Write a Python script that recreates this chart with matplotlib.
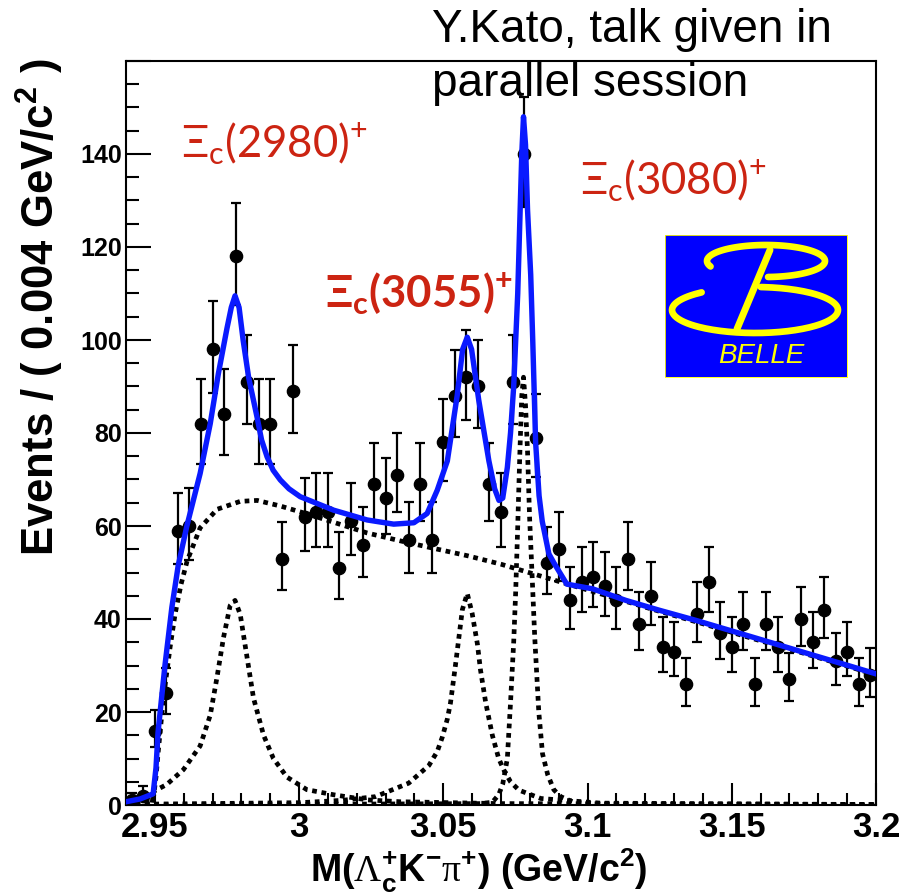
import numpy as np
import matplotlib
matplotlib.use('Agg')
import matplotlib.pyplot as plt
from matplotlib.ticker import MultipleLocator, FuncFormatter

plt.rcParams['font.family'] = ['Liberation Sans', 'DejaVu Sans']
plt.rcParams['mathtext.fontset'] = 'custom'
plt.rcParams['mathtext.rm'] = 'Liberation Sans'
plt.rcParams['mathtext.bf'] = 'Liberation Sans:bold'
plt.rcParams['mathtext.sf'] = 'Liberation Serif'

# --- binned data: Lambda_c+ K- pi+ invariant mass, 4 MeV bins from 2.94 to 3.20
bin_lo = 2.94
bin_w = 0.004
counts = np.array([1, 2, 16, 24, 59, 60, 82, 98, 84, 118,
                   91, 82, 82, 53, 89, 62, 63, 63, 51, 61,
                   56, 69, 66, 71, 57, 69, 57, 78, 88, 92,
                   90, 69, 63, 91, 140, 79, 52, 55, 44, 48,
                   49, 47, 44, 53, 39, 45, 34, 33, 26, 41,
                   48, 37, 34, 39, 26, 39, 34, 27, 40, 35,
                   42, 31, 33, 26, 28])
mass = bin_lo + bin_w * (np.arange(len(counts)) + 0.5)

# poisson-like asymmetric errors
err_lo = np.sqrt(counts + 0.25) - 0.5
err_hi = np.sqrt(counts + 0.25) + 0.5

# --- fit curves
bg_x = [2.9400, 2.9494, 2.9504, 2.9511, 2.9525, 2.9535, 2.9553, 2.9570, 2.9591, 2.9612,
        2.9657, 2.9716, 2.9796, 2.9855, 2.9935, 3.0028, 3.0120, 3.0236, 3.0351, 3.0466,
        3.0584, 3.0699, 3.0872, 3.1046, 3.1219, 3.1393, 3.1567, 3.1740, 3.1914, 3.2000]
bg_y = [0.5, 1.0, 6.0, 11.0, 20.0, 25.5, 34.0, 41.0, 47.5, 52.5,
        59.6, 63.6, 65.3, 65.5, 64.3, 62.6, 60.8, 58.5, 56.8, 55.2,
        53.6, 51.8, 48.6, 45.4, 42.2, 39.1, 35.9, 32.8, 29.6, 28.0]

s1_x = [2.9400, 2.9490, 2.9495, 2.9541, 2.9599, 2.9657, 2.9692, 2.9715, 2.9738, 2.9761,
        2.9778, 2.9796, 2.9819, 2.9842, 2.9877, 2.9911, 2.9958, 3.0027, 3.0120, 3.0236,
        3.0351, 3.0699, 3.2000]
s1_y = [0.0, 0.0, 2.9, 4.4, 7.6, 12.7, 19.3, 27.3, 36.0, 42.9,
        44.0, 41.0, 32.0, 23.0, 15.0, 10.0, 6.0, 3.3, 2.2, 1.1,
        0.7, 0.3, 0.1]

s2_x = [2.9400, 2.9495, 3.0004, 3.0149, 3.0265, 3.0380, 3.0450, 3.0479, 3.0496, 3.0514,
        3.0525, 3.0542, 3.0554, 3.0566, 3.0583, 3.0600, 3.0618, 3.0629, 3.0647, 3.0670,
        3.0692, 3.0710, 3.0733, 3.0762, 3.0838, 3.1046, 3.2000]
s2_y = [0.0, 0.2, 0.5, 1.0, 1.8, 4.7, 8.5, 11.5, 14.5, 18.5,
        22.0, 30.0, 36.0, 42.0, 45.5, 41.2, 34.7, 29.0, 22.0, 15.0,
        10.0, 7.5, 5.0, 3.2, 1.4, 0.4, 0.1]

s3_x = [2.9400, 3.0629, 3.0670, 3.0692, 3.0706, 3.0722, 3.0733, 3.0744, 3.0751, 3.0758,
        3.0765, 3.0772, 3.0778, 3.0785, 3.0792, 3.0799, 3.0806, 3.0817, 3.0831, 3.0844,
        3.0862, 3.0883, 3.0907, 3.0952, 3.1046, 3.2000]
s3_y = [0.0, 0.3, 0.6, 2.2, 4.5, 10.0, 22.0, 35.0, 46.0, 60.0,
        75.0, 88.0, 92.0, 86.0, 76.0, 62.0, 52.0, 36.0, 20.0, 11.0,
        6.5, 3.3, 1.8, 0.6, 0.2, 0.0]

fit_x = [2.9400, 2.9449, 2.9494, 2.9504, 2.9511, 2.9525, 2.9535, 2.9559, 2.9581, 2.9611,
         2.9657, 2.9692, 2.9720, 2.9750, 2.9765, 2.9778, 2.9792, 2.9806, 2.9825, 2.9854,
         2.9870, 2.9889, 2.9910, 2.9935, 2.9965, 3.0004, 3.0120, 3.0236, 3.0328, 3.0398,
         3.0444, 3.0479, 3.0514, 3.0548, 3.0567, 3.0583, 3.0598, 3.0623, 3.0658, 3.0678,
         3.0693, 3.0706, 3.0722, 3.0733, 3.0744, 3.0751, 3.0758, 3.0765, 3.0772, 3.0778,
         3.0785, 3.0792, 3.0803, 3.0810, 3.0820, 3.0832, 3.0843, 3.0866, 3.0884, 3.0928,
         3.1017, 3.1133, 3.1248, 3.1376, 3.1567, 3.1740, 3.1914, 3.2000]
fit_y = [0.7, 1.3, 2.4, 8.0, 15.6, 24.0, 30.0, 42.5, 51.5, 60.0,
         71.3, 82.0, 92.7, 102.5, 107.0, 109.5, 107.0, 100.0, 92.0, 83.5,
         78.5, 74.9, 72.0, 69.9, 68.0, 66.3, 63.4, 61.3, 60.4, 60.7,
         62.7, 67.7, 74.0, 88.0, 98.0, 100.6, 98.0, 87.0, 74.0, 68.0,
         65.5, 66.0, 72.6, 80.0, 90.0, 100.0, 110.0, 125.0, 140.0, 148.0,
         142.0, 128.0, 114.0, 100.0, 78.0, 66.5, 61.0, 54.0, 52.0, 47.5,
         46.5, 44.0, 41.9, 39.7, 36.2, 33.0, 29.8, 28.2]

red = '#cc2412'
dots = (0, (1.0, 1.0))

fig = plt.figure(figsize=(8.99, 8.96), dpi=100)
ax = fig.add_axes([126/899, 1-805/896, 750/899, 744/896])

ax.errorbar(mass, counts, yerr=[err_lo, err_hi], fmt='o', color='black',
            ms=8.8, elinewidth=1.6, capsize=3.5, capthick=1.6, zorder=3)

for cx, cy in [(bg_x, bg_y), (s1_x, s1_y), (s2_x, s2_y), (s3_x, s3_y)]:
    ax.plot(cx, cy, color='black', lw=3.4, ls=dots, zorder=4)
ax.plot(fit_x, fit_y, color='#0a1aff', lw=3.9, zorder=5, solid_joinstyle='round')

ax.set_xlim(2.94, 3.2)
ax.set_ylim(0, 160)
ax.xaxis.set_major_locator(MultipleLocator(0.05))
ax.xaxis.set_minor_locator(MultipleLocator(0.01))
ax.yaxis.set_major_locator(MultipleLocator(20))
ax.yaxis.set_minor_locator(MultipleLocator(5))
ax.xaxis.set_major_formatter(FuncFormatter(lambda v, p: '%g' % round(v, 3)))
ax.yaxis.set_major_formatter(FuncFormatter(lambda v, p: '' if v > 150 else '%d' % v))
ax.tick_params(which='both', direction='in', top=False, right=False, width=1.5)
ax.tick_params(axis='x', which='major', length=16, pad=4, labelsize=25)
ax.tick_params(axis='x', which='minor', length=8.5)
ax.tick_params(axis='y', which='major', length=18, pad=3, labelsize=18)
ax.tick_params(axis='y', which='minor', length=9.5)
for lab in ax.get_xticklabels() + ax.get_yticklabels():
    lab.set_fontweight('bold')
for sp in ax.spines.values():
    sp.set_linewidth(1.5)

fig.text(310/899, 1-882/896, r'M($\mathsf{Λ}_\mathregular{c}^\mathregular{+}$K$^\mathregular{-}$$\mathsf{π}^\mathregular{+}$) (GeV/c$^\mathregular{2}$)',
         fontsize=27, fontweight='bold', ha='left', va='baseline')
fig.text(40/899, 1-58/896, r'Events / ( 0.004 GeV/c$^\mathregular{2}$ )',
         fontsize=31.5, fontweight='bold', rotation=90, ha='center', va='top')

# resonance labels
lab_font = ['Lato', 'Noto Sans']
fig.text(181/899, 1-158/896, r'Ξ$_\mathregular{c}$(2980)$^\mathregular{+}$', fontsize=31.5,
         color=red, family=lab_font, ha='left', va='baseline')
fig.text(325/899, 1-308/896, r'Ξ$_\mathregular{c}$(3055)$^\mathregular{+}$', fontsize=31.5,
         color=red, family=lab_font, fontweight='bold', ha='left', va='baseline')
fig.text(580/899, 1-195/896, r'Ξ$_\mathregular{c}$(3080)$^\mathregular{+}$', fontsize=31.5,
         color=red, family=lab_font, ha='left', va='baseline')

fig.text(432/899, 1-8/896, 'Y.Kato, talk given in\nparallel session', fontsize=33,
         ha='left', va='top', linespacing=1.28)

# Belle logo
lax = fig.add_axes([665/899, 1-377/896, 182/899, 142/896])
lax.set_facecolor('#0000ff')
lax.set_xlim(665, 847)
lax.set_ylim(377, 235)
lax.set_xticks([])
lax.set_yticks([])
for sp in lax.spines.values():
    sp.set_color('#ffff00')
    sp.set_linewidth(0.6)
yel = '#ffff00'
t = np.radians(np.linspace(200, -88, 120))
lax.plot(766 + 59*np.cos(t), 261 - 16*np.sin(t), color=yel, lw=4.8, solid_capstyle='round')
t = np.radians(np.linspace(130, 446, 160))
lax.plot(755 + 83*np.cos(t), 310 - 23*np.sin(t), color=yel, lw=4.8, solid_capstyle='round')
lax.plot([770, 737], [250, 329], color=yel, lw=5, solid_capstyle='round')
lax.text(761, 356, 'BELLE', style='italic', color=yel, fontsize=20, ha='center', va='center')

fig.savefig('out.png', dpi=100, facecolor='white')
